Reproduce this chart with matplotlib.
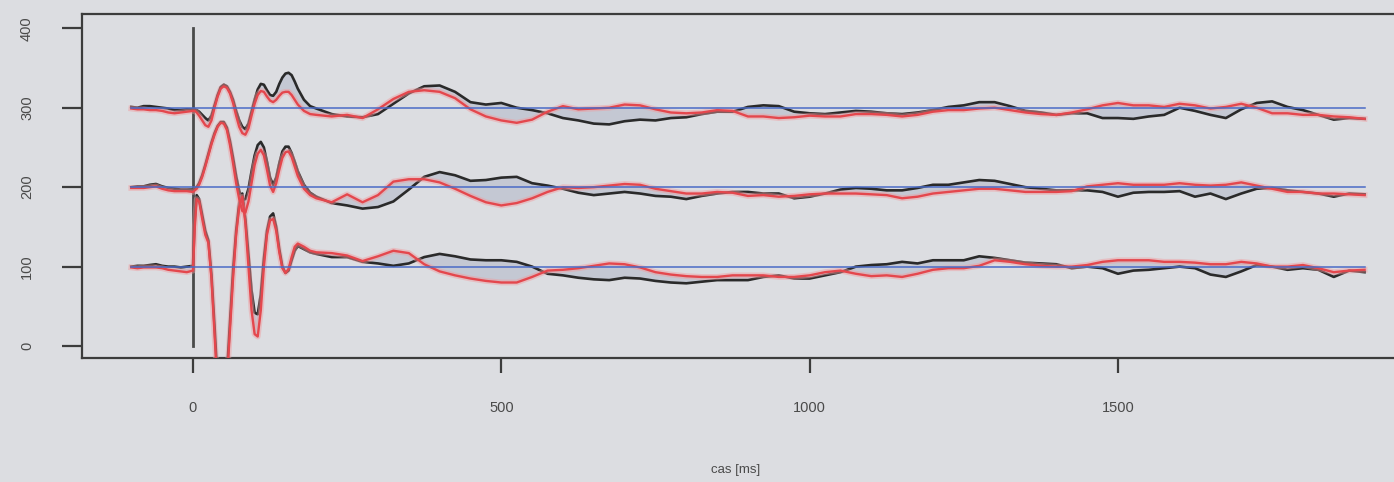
import matplotlib
matplotlib.use("Agg")
import matplotlib.pyplot as plt

# ---- sampling times [ms] ----
t_pre = [-100, -90, -80, -70, -60, -50, -40, -30, -20, -10, 0]
t_early = [3, 6, 10, 15, 20, 25, 30, 35, 40, 45, 50, 55, 60, 65, 70, 75, 80, 85,
           90, 95, 100, 105, 110, 115, 120, 125, 130, 135, 140, 145, 150, 155,
           160, 165, 170, 180, 190]
t_late = list(range(200, 1901, 25))

# ---- channel offset 300 ----
top_black = (
    [301, 300, 302, 302, 301, 300, 299, 297, 297, 298, 298]
    + [298, 297, 295, 291, 287, 284, 290, 303, 316, 326, 329, 327, 320, 310, 296,
       284, 276, 273, 280, 295, 310, 323, 330, 329, 322, 316, 315, 320, 330, 338,
       343, 344, 341, 333, 324, 310, 302]
    + [299, 292, 289, 288, 292, 305, 318, 327, 328, 320,
       307, 304, 306, 300, 297, 293, 287, 284, 280, 279,
       283, 285, 284, 287, 288, 292, 295, 295, 301, 303,
       302, 295, 293, 292, 294, 296, 295, 293, 292, 294,
       297, 301, 303, 307, 307, 302, 296, 294, 291, 293,
       293, 287, 287, 286, 289, 291, 300, 296, 291, 287,
       298, 306, 308, 301, 297, 291, 285, 287, 286]
)
top_red = (
    [299, 298, 298, 297, 297, 296, 294, 293, 294, 295, 296]
    + [296, 294, 290, 284, 278, 276, 284, 300, 314, 324, 327, 325, 318, 306, 290,
       276, 268, 266, 274, 290, 305, 316, 321, 320, 314, 309, 307, 310, 315, 319,
       320, 320, 316, 310, 304, 296, 292]
    + [291, 289, 291, 287, 298, 311, 320, 322, 320, 312,
       298, 289, 284, 281, 285, 295, 302, 298, 299, 300,
       304, 303, 298, 294, 293, 294, 297, 296, 289, 289,
       287, 288, 290, 289, 289, 292, 292, 291, 289, 291,
       295, 297, 297, 299, 300, 297, 294, 292, 291, 294,
       298, 303, 306, 303, 303, 301, 305, 303, 299, 301,
       305, 300, 293, 293, 291, 291, 289, 288, 286]
)

# ---- channel offset 200 ----
mid_black = (
    [200, 201, 201, 203, 204, 201, 199, 198, 197, 197, 197]
    + [198, 200, 205, 215, 228, 242, 256, 268, 277, 282, 282, 275, 258, 237, 214,
       195, 184, 185, 198, 220, 240, 253, 257, 250, 232, 212, 203, 212, 230, 245,
       251, 251, 243, 232, 220, 203, 193]
    + [188, 180, 177, 173, 175, 182, 197, 213, 219, 215,
       208, 209, 212, 213, 205, 202, 198, 193, 190, 192,
       194, 192, 189, 188, 185, 189, 192, 194, 194, 192,
       192, 186, 188, 192, 197, 199, 198, 196, 196, 199,
       203, 203, 206, 209, 208, 204, 200, 198, 196, 196,
       196, 194, 188, 193, 194, 194, 195, 188, 192, 185,
       192, 198, 199, 196, 194, 192, 188, 192, 191]
)
mid_red = (
    [199, 199, 199, 200, 201, 198, 196, 195, 195, 195, 194]
    + [196, 198, 203, 213, 226, 240, 254, 266, 276, 281, 280, 272, 253, 230, 205,
       185, 170, 168, 182, 205, 228, 242, 247, 240, 222, 202, 194, 205, 222, 237,
       244, 245, 238, 226, 214, 198, 190]
    + [186, 181, 191, 181, 190, 207, 210, 210, 206, 198,
       189, 181, 177, 180, 186, 194, 200, 199, 200, 202,
       204, 203, 198, 195, 192, 192, 194, 193, 189, 190,
       188, 189, 191, 192, 192, 192, 191, 190, 186, 188,
       192, 194, 196, 198, 198, 196, 194, 194, 194, 195,
       201, 203, 205, 203, 203, 203, 205, 203, 202, 203,
       206, 202, 198, 194, 194, 192, 192, 191, 190]
)

# ---- channel offset 100 ----
low_black = (
    [100, 101, 101, 102, 103, 101, 100, 100, 99, 100, 101]
    + [160, 190, 185, 165, 145, 133, 90, 25, -45, -90, -85, -35, 30, 95, 145,
       180, 192, 160, 115, 70, 42, 40, 65, 110, 145, 163, 167, 150, 122, 100,
       92, 95, 108, 120, 126, 122, 118]
    + [116, 112, 112, 106, 104, 101, 104, 112, 116, 113,
       109, 108, 108, 106, 100, 91, 89, 86, 84, 83,
       86, 85, 82, 80, 79, 81, 83, 83, 83, 87,
       89, 85, 85, 89, 93, 100, 102, 103, 106, 104,
       108, 108, 108, 113, 111, 108, 105, 104, 103, 98,
       100, 98, 91, 95, 96, 98, 100, 98, 90, 87,
       94, 102, 100, 96, 98, 96, 87, 95, 93]
)
low_red = (
    [99, 98, 99, 99, 99, 98, 96, 95, 94, 93, 95]
    + [150, 185, 182, 160, 140, 130, 85, 15, -55, -100, -95, -45, 20, 85, 140,
       175, 188, 155, 100, 45, 15, 12, 45, 100, 140, 158, 160, 145, 118, 98,
       92, 97, 112, 125, 129, 125, 120]
    + [118, 117, 114, 107, 113, 120, 117, 103, 94, 89,
       85, 82, 80, 80, 87, 95, 96, 98, 101, 104,
       103, 99, 93, 90, 88, 87, 87, 89, 89, 89,
       87, 87, 89, 93, 95, 91, 88, 89, 87, 91,
       96, 98, 98, 101, 108, 106, 103, 101, 100, 100,
       102, 106, 108, 108, 108, 106, 106, 105, 103, 103,
       106, 104, 100, 100, 102, 98, 93, 95, 96]
)

baselines = [100, 200, 300]
y_ticks = [0, 100, 200, 300, 400]
x_ticks = [0, 500, 1000, 1500]
x_label = "cas [ms]"

t = t_pre + t_early + t_late
channels = [(low_black, low_red), (mid_black, mid_red), (top_black, top_red)]
for b, r in channels:
    assert len(b) == len(t) and len(r) == len(t)

bg = "#dcdde1"
fig = plt.figure(figsize=(13.94, 4.82), dpi=100, facecolor=bg)
ax = fig.add_axes([0.0588, 0.2573, 0.9555, 0.7137], facecolor=bg)

for b, r in channels:
    ax.fill_between(t, b, r, color="#c4c8d3", lw=0, zorder=1)
    ax.plot(t, b, color="#2a2a2a", lw=1.9, zorder=3, solid_joinstyle="round")
    ax.plot(t, r, color="#f19a9d", lw=4.2, alpha=0.45, zorder=4,
            solid_joinstyle="round")
    ax.plot(t, r, color="#e4474d", lw=1.7, zorder=5, solid_joinstyle="round")

for y0 in baselines:
    ax.plot([t[0], t[-1]], [y0, y0], color="#4a6bc6", lw=1.1, zorder=6)

# stimulus onset marker
ax.plot([0, 0], [0, 400], color="#4a4a4a", lw=2.0, zorder=2)

ax.set_xlim(-180, 1980)
ax.set_ylim(-15, 418)

ax.set_xticks(x_ticks)
ax.set_xticklabels([str(v) for v in x_ticks])
ax.set_yticks(y_ticks)
ax.set_yticklabels([str(v) for v in y_ticks], rotation=90, va="center")

for s in ax.spines.values():
    s.set_color("#3c3c3c")
    s.set_linewidth(1.6)

ax.tick_params(axis="x", length=11, width=1.6, color="#3c3c3c",
               pad=20, labelsize=10.5, labelcolor="#4a4a4a")
ax.tick_params(axis="y", length=14.5, width=1.6, color="#3c3c3c",
               pad=20, labelsize=10.5, labelcolor="#4a4a4a")
for lab in ax.get_xticklabels() + ax.get_yticklabels():
    lab.set_fontfamily("Liberation Sans")

fig.text(736 / 1394, 1 - 470 / 482, x_label, ha="center", va="center",
         fontsize=9.5, color="#4a4a4a", family="Liberation Sans")

fig.savefig("out.png", dpi=100, facecolor=bg)
